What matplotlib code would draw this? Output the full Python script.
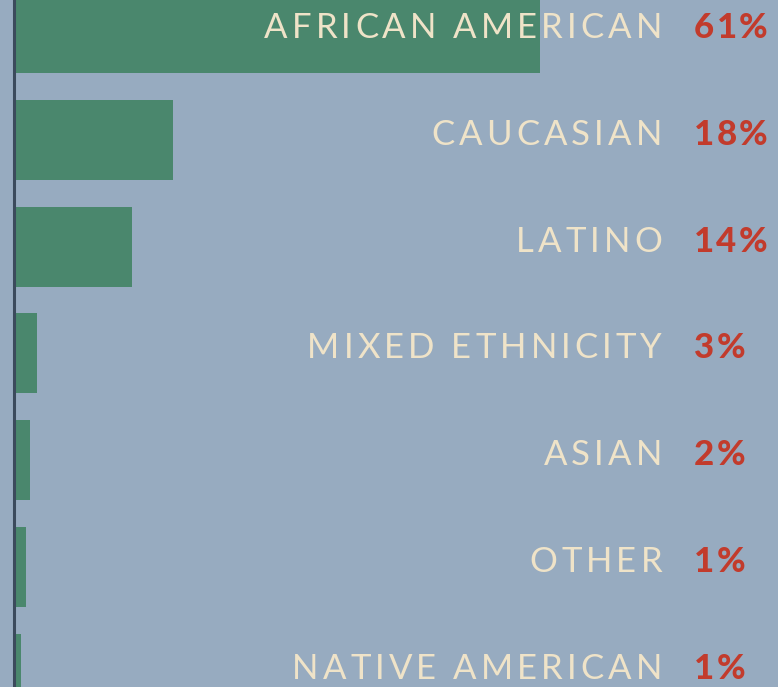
import matplotlib
matplotlib.use("Agg")
import matplotlib.pyplot as plt
from matplotlib.transforms import offset_copy

categories = ["AFRICAN AMERICAN", "CAUCASIAN", "LATINO", "MIXED ETHNICITY",
              "ASIAN", "OTHER", "NATIVE AMERICAN"]
values = [61, 18.4, 13.7, 2.7, 1.9, 1.4, 0.8]
pct_labels = ["61%", "18%", "14%", "3%", "2%", "1%", "1%"]

BG = "#97abc0"
GREEN = "#4a876d"
CREAM = "#efe3c8"
RED = "#c23b2c"
FAM = ["Lato", "DejaVu Sans"]

W, H = 778, 687
fig = plt.figure(figsize=(W / 100, H / 100), dpi=100, facecolor=BG)
left = 14 / W
ax = fig.add_axes([left, 0, 1 - left, 1], facecolor=BG)

px_per_unit = 8.62
ax.set_xlim(0, (W - 14) / px_per_unit)
step = 106.8
ax.set_ylim((H - 33) / step, -33 / step)

ypos = list(range(len(categories)))
ax.barh(ypos, values, height=0.75, color=GREEN, zorder=2)

for s in ["top", "right", "bottom"]:
    ax.spines[s].set_visible(False)
ax.spines["left"].set_color("#3b4a5c")
ax.spines["left"].set_linewidth(2.2)
ax.spines["left"].set_zorder(3)
ax.set_xticks([])
ax.set_yticks([])

renderer = fig.canvas.get_renderer()
tr = ax.get_yaxis_transform()


def text_width(s, **kw):
    t = fig.text(0, 0, s, **kw)
    w = t.get_window_extent(renderer).width
    t.remove()
    return w


def tracked(xa, yd, s, ha, tracking, dx, dy, **kw):
    bar = "|"
    wbar = text_width(bar, **kw)
    offs = []
    for k in range(len(s)):
        pre = s[:k]
        w = text_width(pre + bar, **kw) - wbar if pre else 0.0
        offs.append(w + k * tracking)
    total = text_width(s, **kw) + (len(s) - 1) * tracking
    start = -total if ha == "right" else 0.0
    for k, ch in enumerate(s):
        if ch == " ":
            continue
        t2 = offset_copy(tr, fig=fig, x=start + offs[k] + dx, y=dy, units="dots")
        ax.text(xa, yd, ch, transform=t2, ha="left", va="center", zorder=4, **kw)


lab_x = (665 - 14) / (W - 14)
pct_x = (695 - 14) / (W - 14)
for i, (c, p) in enumerate(zip(categories, pct_labels)):
    tracked(lab_x, i, c, "right", 4.1, -3, 5, color=CREAM, fontsize=25, family=FAM)
    tracked(pct_x, i, p, "left", 2.3, -1, 5, color=RED, fontsize=25,
            fontweight="black", family=FAM)

fig.savefig("out.png", dpi=100, facecolor=BG)
